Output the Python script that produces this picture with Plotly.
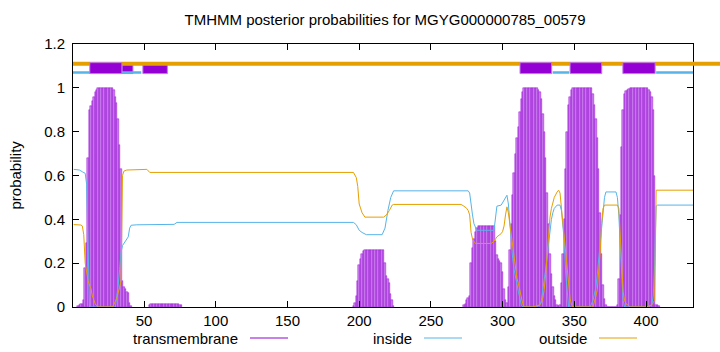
import plotly.graph_objects as go

title = "TMHMM posterior probabilities for MGYG000000785_00579"
seq_len = 433
x_ticks = [50, 100, 150, 200, 250, 300, 350, 400]
y_ticks = [0, 0.2, 0.4, 0.6, 0.8, 1, 1.2]
y_tick_text = ["0", "0.2", "0.4", "0.6", "0.8", "1", "1.2"]
legend_names = ["transmembrane", "inside", "outside"]

# transmembrane posterior (residue, probability), only residues with visible bars
tm_res = (list(range(4, 42)) + list(range(54, 77)) + list(range(196, 225))
          + list(range(273, 410)))
tm_val = (
    # 4..41
    [0.005, 0.01, 0.012, 0.015, 0.03, 0.18, 0.29, 0.68, 0.9, 0.915, 0.94, 0.96, 0.98, 0.99,
     1.0, 1.0, 1.0, 1.0, 1.0, 1.0, 1.0, 1.0, 1.0, 1.0, 1.0,
     0.99, 0.96, 0.93, 0.86, 0.74, 0.63, 0.12, 0.09, 0.08, 0.07, 0.065, 0.02, 0.005]
    # 54..76
    + [0.01, 0.012, 0.012, 0.012, 0.012, 0.012, 0.012, 0.012, 0.012, 0.012, 0.012, 0.012,
       0.012, 0.012, 0.012, 0.012, 0.012, 0.012, 0.012, 0.012, 0.012, 0.01, 0.008]
    # 196..224
    + [0.005, 0.02, 0.05, 0.12, 0.19, 0.22, 0.24, 0.255,
       0.262, 0.262, 0.262, 0.262, 0.262, 0.262, 0.262, 0.262, 0.262, 0.262, 0.262, 0.262,
       0.262, 0.262, 0.2, 0.14, 0.13, 0.11, 0.06, 0.03, 0.005]
    # 273..409
    + [0.01, 0.015, 0.03, 0.04, 0.05, 0.2, 0.27, 0.31, 0.34, 0.36,
       0.369, 0.369, 0.369, 0.369, 0.369, 0.369, 0.369, 0.369, 0.369, 0.369, 0.369, 0.369,
       0.3, 0.236, 0.22, 0.21, 0.2, 0.16, 0.08, 0.03, 0.02, 0.09, 0.26,
       0.38, 0.51, 0.61, 0.7, 0.77, 0.82, 0.89, 0.95, 0.98,
       1.0, 1.0, 1.0, 1.0, 1.0, 1.0, 1.0, 1.0, 1.0, 1.0,
       0.99, 0.98, 0.95, 0.88, 0.8, 0.68, 0.52, 0.38, 0.24, 0.15, 0.09, 0.05, 0.03, 0.01,
       0.005, 0.01, 0.11, 0.24, 0.4, 0.63, 0.8, 0.92, 0.96, 0.99,
       1.0, 1.0, 1.0, 1.0, 1.0, 1.0, 1.0, 1.0, 1.0, 1.0, 1.0, 1.0, 1.0, 1.0,
       0.97, 0.92, 0.86, 0.77, 0.63, 0.43, 0.24, 0.1, 0.035, 0.01,
       0.0, 0.0, 0.0, 0.0, 0.0, 0.0, 0.0,
       0.01, 0.13, 0.42, 0.73, 0.9, 0.97, 0.985, 0.99, 0.995,
       1.0, 1.0, 1.0, 1.0, 1.0, 1.0, 1.0, 1.0, 1.0, 1.0, 1.0, 1.0, 1.0,
       0.99, 0.98, 0.96, 0.9, 0.6, 0.01, 0.01, 0.005]
)

inside_x = [1, 5, 7, 9, 10, 11, 12, 30, 31, 32, 33, 34, 35, 36, 38, 39, 40, 41, 45, 71, 73,
            196, 198, 200, 202, 205, 216, 218, 220, 222, 224,
            274, 276, 277, 278, 279, 280, 281, 282, 294, 295, 296, 299, 301, 302, 303, 304,
            305, 306, 307, 308, 309, 310, 311, 312, 313, 314, 324, 326, 327, 328, 329, 330,
            331, 332, 333, 334, 335, 336, 338, 340, 341, 342, 343, 344, 345, 346, 361, 363,
            364, 365, 366, 367, 368, 369, 370, 371, 372, 379, 380, 381, 382, 383, 384, 385,
            402, 404, 405, 406, 407, 408, 433]
inside_y = [0.628, 0.625, 0.617, 0.61, 0.56, 0.2, 0.0, 0.0, 0.04, 0.1, 0.17, 0.25, 0.28,
            0.29, 0.31, 0.32, 0.36, 0.373, 0.375, 0.377, 0.386,
            0.386, 0.375, 0.35, 0.34, 0.33, 0.33, 0.36, 0.44, 0.5, 0.53,
            0.53, 0.53, 0.52, 0.46, 0.42, 0.38, 0.36, 0.35, 0.35, 0.4, 0.46, 0.465, 0.49,
            0.5, 0.51, 0.47, 0.38, 0.3, 0.22, 0.17, 0.13, 0.1, 0.07, 0.04, 0.01, 0.0, 0.0,
            0.01, 0.03, 0.08, 0.12, 0.17, 0.23, 0.29, 0.35, 0.4, 0.43, 0.45, 0.465, 0.465,
            0.44, 0.38, 0.3, 0.15, 0.05, 0.0, 0.0, 0.03, 0.06, 0.09, 0.15, 0.22, 0.32, 0.38,
            0.45, 0.5, 0.525, 0.525, 0.5, 0.42, 0.28, 0.12, 0.03, 0.0,
            0.0, 0.01, 0.05, 0.2, 0.46, 0.465, 0.465]

outside_x = [1, 6, 7, 8, 9, 10, 11, 12, 13, 14, 15, 16, 17, 18, 28, 29, 30, 31, 32, 33, 34,
             35, 36, 38, 52, 54,
             196, 198, 199, 200, 202, 204, 217, 219, 221, 223, 224,
             271, 273, 275, 276, 277, 278, 279, 280, 281, 292, 294, 296, 299, 300, 301, 302,
             303, 304, 305, 306, 307, 308, 309, 310, 311, 312, 313, 314, 315, 321, 326, 327,
             328, 329, 330, 331, 332, 333, 334, 336, 338, 339, 340, 341, 342, 343, 344, 345,
             346, 347, 348, 349, 363, 364, 365, 366, 367, 368, 369, 370, 371, 380, 381, 382,
             383, 384, 385, 386, 388, 389, 400, 403, 404, 405, 406, 407, 433]
outside_y = [0.376, 0.374, 0.37, 0.33, 0.2, 0.15, 0.12, 0.1, 0.085, 0.05, 0.03, 0.015,
             0.005, 0.0, 0.0, 0.01, 0.025, 0.04, 0.06, 0.09, 0.12, 0.6, 0.62, 0.625, 0.628,
             0.614,
             0.614, 0.59, 0.55, 0.47, 0.43, 0.41, 0.41, 0.42, 0.44, 0.465, 0.468,
             0.468, 0.46, 0.45, 0.44, 0.42, 0.34, 0.31, 0.3, 0.29, 0.29, 0.3, 0.32, 0.335,
             0.345, 0.37, 0.42, 0.457, 0.43, 0.381, 0.32, 0.27, 0.22, 0.17, 0.13, 0.107,
             0.07, 0.04, 0.015, 0.0, 0.0, 0.01, 0.02, 0.04, 0.08, 0.15, 0.25, 0.33, 0.41,
             0.45, 0.5, 0.525, 0.533, 0.52, 0.45, 0.38, 0.3, 0.22, 0.15, 0.08, 0.04, 0.01,
             0.0, 0.0, 0.02, 0.05, 0.08, 0.15, 0.25, 0.38, 0.45, 0.465, 0.465, 0.45, 0.3,
             0.15, 0.07, 0.03, 0.015, 0.005, 0.0, 0.0, 0.005, 0.01, 0.02, 0.03, 0.533, 0.533]

# predicted topology strip (residue ranges)
tm_boxes_back = [(34.6, 42.3), (49.2, 66.3)]
tm_boxes_front = [(12.2, 34.6), (312.1, 334.2), (347.0, 369.1), (383.8, 406.3)]
inside_segments = [(0.5, 48.1), (334.9, 346.3), (407.0, 432.7)]
topo_outside_y = 1.11
topo_inside_y = 1.07
topo_box_y = (1.065, 1.115)

C_TM = "#9400D3"
C_TM_FILL = "#CB85EC"
C_TM_EDGE = "#C27BEB"
C_IN = "#56B4E9"
C_OUT = "#E69F00"
FONT = "Liberation Sans, Arial, sans-serif"
FS = 15

fig = go.Figure()
fig.add_trace(go.Bar(x=tm_res, y=tm_val, width=1.0,
                     marker=dict(color=C_TM_FILL, line=dict(color=C_TM, width=0.45)),
                     name=legend_names[0], showlegend=False))
fig.add_trace(go.Scatter(x=inside_x, y=inside_y, mode="lines",
                         line=dict(color=C_IN, width=1), name=legend_names[1],
                         showlegend=False))
fig.add_trace(go.Scatter(x=outside_x, y=outside_y, mode="lines",
                         line=dict(color=C_OUT, width=1), name=legend_names[2],
                         showlegend=False))

shapes = []
for a, b in tm_boxes_back:
    shapes.append(dict(type="rect", xref="x", yref="y", x0=a, x1=b,
                       y0=topo_box_y[0], y1=topo_box_y[1],
                       fillcolor=C_TM, line=dict(color=C_TM_EDGE, width=1)))
shapes.append(dict(type="line", xref="paper", yref="y", x0=0, x1=1.06,
                   y0=topo_outside_y, y1=topo_outside_y,
                   line=dict(color=C_OUT, width=4)))
for a, b in inside_segments:
    shapes.append(dict(type="line", xref="x", yref="y", x0=a, x1=b,
                       y0=topo_inside_y, y1=topo_inside_y,
                       line=dict(color=C_IN, width=2.5)))
for a, b in tm_boxes_front:
    shapes.append(dict(type="rect", xref="x", yref="y", x0=a, x1=b,
                       y0=topo_box_y[0], y1=topo_box_y[1],
                       fillcolor=C_TM, line=dict(color=C_TM_EDGE, width=1)))

# legend (gnuplot style: text then sample line)
legend_text_x = [240, 414, 589]
legend_colors = [C_TM, C_IN, C_OUT]
annotations = []
W, H = 720, 352
L, R, T, B = 73, 27, 44, 45
pw, ph = W - L - R, H - T - B
leg_y = (H - B - 338) / ph
for name, tx, col in zip(legend_names, legend_text_x, legend_colors):
    annotations.append(dict(text=name, xref="paper", yref="paper",
                            x=(tx - L) / pw, y=leg_y, xanchor="right", yanchor="middle",
                            showarrow=False, font=dict(family=FONT, size=FS, color="black")))
    shapes.append(dict(type="line", xref="paper", yref="paper",
                       x0=(tx + 10 - L) / pw, x1=(tx + 48 - L) / pw, y0=leg_y, y1=leg_y,
                       line=dict(color=col, width=1)))
annotations.append(dict(text="probability", xref="paper", yref="paper",
                        x=(15 - L) / pw, y=0.5, textangle=-90, xanchor="center",
                        yanchor="middle", showarrow=False,
                        font=dict(family=FONT, size=FS, color="black")))

fig.update_layout(
    width=W, height=H,
    margin=dict(l=L, r=R, t=T, b=B),
    paper_bgcolor="white", plot_bgcolor="white",
    bargap=0,
    title=dict(text=title, x=385 / W, xanchor="center", y=1 - 20 / H,
               yanchor="middle", font=dict(family=FONT, size=FS, color="black")),
    font=dict(family=FONT, size=FS, color="black"),
    shapes=shapes, annotations=annotations,
    xaxis=dict(range=[0.5, 432.7], tickvals=x_ticks, ticks="inside", ticklen=6,
               tickcolor="black", showline=True, linecolor="black", linewidth=1,
               mirror="ticks", showgrid=False, zeroline=False,
               tickfont=dict(family=FONT, size=FS, color="black")),
    yaxis=dict(range=[0, 1.2], tickvals=y_ticks, ticktext=y_tick_text, ticks="inside",
               ticklen=6, tickcolor="black", showline=True, linecolor="black", linewidth=1,
               mirror="ticks", showgrid=False, zeroline=False, ticklabelstandoff=4,
               tickfont=dict(family=FONT, size=FS, color="black")),
)

fig.write_html("out.html")
